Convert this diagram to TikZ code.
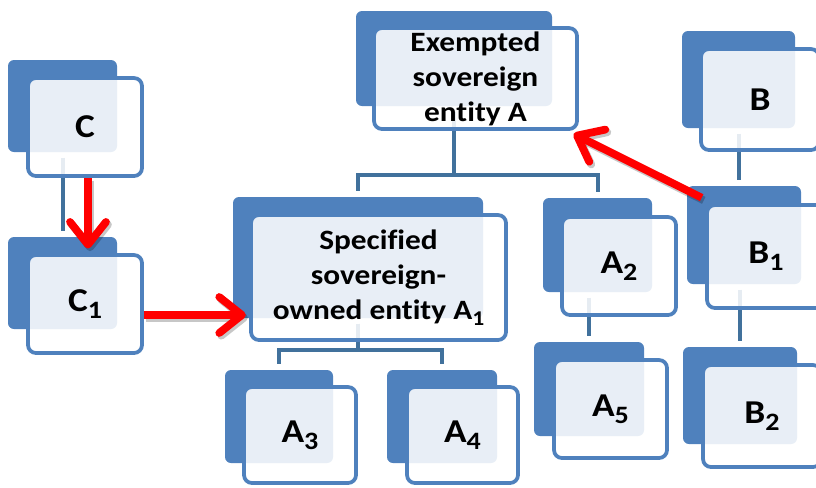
\documentclass[tikz,border=0pt]{standalone}
\usepackage{fontspec}
\setmainfont[Ligatures=NoCommon, FakeStretch=1.12]{Carlito}
\usetikzlibrary{arrows.meta,calc}
\definecolor{bkblue}{HTML}{4F81BD}
\definecolor{lnblue}{HTML}{41719C}
\definecolor{arrred}{HTML}{FF0000}
\newcommand\sbs[1]{\raisebox{-0.22em}{\scalebox{0.75}{#1}}}
\begin{document}
\begin{tikzpicture}[x=0.75pt,y=-0.75pt,
  bk/.style 2 args={draw=none, fill=bkblue, rounded corners=4.5pt,
    minimum width=#1*0.75pt, minimum height=#2*0.75pt, inner sep=0pt},
  fr/.style 2 args={draw=bkblue, line width=2.8pt, fill=white, fill opacity=0.87,
    text opacity=1, rounded corners=6pt, minimum width=#1*0.75pt,
    minimum height=#2*0.75pt, inner sep=0pt, align=center,
    font=\fontsize{25}{28}\selectfont\bfseries},
  multi/.style={font=\fontsize{21}{26.25}\selectfont\bfseries},
  conn/.style={draw=lnblue, line width=3pt, shorten <=4pt, shorten >=4pt},
  redarr/.style={draw=arrred, line width=5.8pt,
    -{Straight Barb[length=17pt, width=27pt, line join=round, line cap=round]}},
  redshadow/.style={draw=black, opacity=0.22, line width=5.8pt,
    transform canvas={shift={(1.5pt,-2pt)}},
    -{Straight Barb[length=17pt, width=27pt, line join=round, line cap=round]}},
]
\useasboundingbox (0,0) rectangle (816,487);
% back boxes
\node[bk={109}{92}]  (Cb)  at (62.5,106)  {};
\node[bk={109}{92}]  (C1b) at (62.5,283)  {};
\node[bk={196}{95}]  (Eb)  at (454,58.5)  {};
\node[bk={250}{121}] (Sb)  at (358,257.5) {};
\node[bk={109}{94}]  (A2b) at (597.5,245) {};
\node[bk={108}{93}]  (A3b) at (279,416.5) {};
\node[bk={110}{93}]  (A4b) at (442,416.5) {};
\node[bk={110}{94}]  (A5b) at (589,389)   {};
\node[bk={113}{97}]  (Bb)  at (738.5,79.5) {};
\node[bk={114}{98}]  (B1b) at (744,235)   {};
\node[bk={114}{97}]  (B2b) at (740,395.5) {};
% connectors
\draw[conn] (Cb.south) -- (C1b.north);
\draw[conn] (Eb.south) -- ++(0,69) -| (Sb.north);
\draw[conn] (Eb.south) -- ++(0,69) -| (A2b.north);
\draw[conn] (Sb.south) -- ++(0,32) -| (A3b.north);
\draw[conn] (Sb.south) -- ++(0,32) -| (A4b.north);
\draw[conn] (A5b.north |- A2b.south) -- (A5b.north);
\draw[conn] (Bb.south) -- (Bb.south |- B1b.north);
\draw[conn] (B2b.north |- B1b.south) -- (B2b.north);
% front boxes
\node[fr={114}{98}]  (C)  at (85,127)   {C};
\node[fr={114}{98}]  (C1) at (85,304)   {C\sbs{1}};
\node[fr={203}{101}, multi] (E)  at (475.5,78.5) {Exempted\\sovereign\\entity A};
\node[fr={255}{125}, multi] (S)  at (378.5,277.5) {Specified\\sovereign-\\owned entity A\sbs{1}};
\node[fr={114}{98}]  (A2) at (619,266)  {A\sbs{2}};
\node[fr={112}{96}]  (A3) at (300,435)  {A\sbs{3}};
\node[fr={111}{96}]  (A4) at (462.5,435) {A\sbs{4}};
\node[fr={113}{98}]  (A5) at (610.5,409) {A\sbs{5}};
\node[fr={118}{101}] (B)  at (760,99.5) {B};
\node[fr={118}{103}] (B1) at (766,256.5) {B\sbs{1}};
\node[fr={118}{102}] (B2) at (762,416)  {B\sbs{2}};
% red arrows (shadows then arrows)
\draw[redshadow] ([xshift=2.25pt]C.south) -- ([xshift=2.25pt,yshift=3.5pt]C1.north);
\draw[redshadow] ([yshift=-8.25pt]C1.east) -- ([yshift=-8.25pt,xshift=-2.5pt]C1.east -| S.west);
\draw[redshadow] ([shift={(11.25pt,-9pt)}]B1b.north west) -- ([shift={(-4pt,-2.25pt)}]E.south east);
\draw[redarr] ([xshift=2.25pt]C.south) -- ([xshift=2.25pt,yshift=3.5pt]C1.north);
\draw[redarr] ([yshift=-8.25pt]C1.east) -- ([yshift=-8.25pt,xshift=-2.5pt]C1.east -| S.west);
\draw[redarr] ([shift={(11.25pt,-9pt)}]B1b.north west) -- ([shift={(-4pt,-2.25pt)}]E.south east);
\end{tikzpicture}
\end{document}
